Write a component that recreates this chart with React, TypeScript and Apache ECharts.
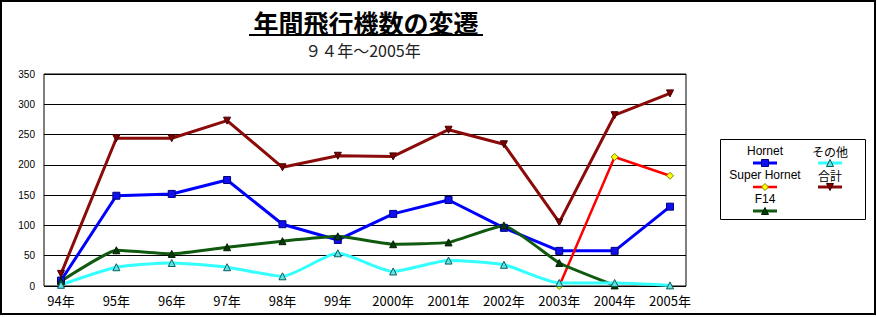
import React, { useEffect, useRef } from "react";
import * as echarts from "echarts";

const categories = ["94年", "95年", "96年", "97年", "98年", "99年", "2000年", "2001年", "2002年", "2003年", "2004年", "2005年"];
const hornet = [9, 149, 152, 175, 102, 76, 119, 142, 96, 58, 58, 131];
const superHornet = [null, null, null, null, null, null, null, null, null, 0, 213, 182];
const f14 = [8, 59, 53, 64, 74, 82, 69, 72, 100, 38, 1, null];
const others = [2, 31, 38, 31, 16, 54, 24, 42, 35, 5, 5, 1];
const total = [20, 244, 244, 273, 196, 215, 214, 258, 234, 105, 282, 318];
const yTicks = { min: 0, max: 350, interval: 50 };
const titleText = "年間飛行機数の変遷";
const subtitleText = "９４年～2005年";
const seriesNames = ["Hornet", "Super Hornet", "F14", "その他", "合計"];

const JP = "'Noto Sans CJK JP', 'Liberation Sans', sans-serif";
const LAT = "'Liberation Sans', 'Noto Sans CJK JP', sans-serif";

const styles = {
  hornet: { line: "#0000ff", fill: "#1010ee", border: "#000080", symbol: "rect", rotate: 0, width: 3 },
  superHornet: { line: "#ff0000", fill: "#ffff00", border: "#808000", symbol: "diamond", rotate: 0, width: 2.5 },
  f14: { line: "#0f5a0f", fill: "#0a3a0a", border: "#002000", symbol: "triangle", rotate: 0, width: 3 },
  others: { line: "#33ffff", fill: "#66e0e0", border: "#006060", symbol: "triangle", rotate: 0, width: 3 },
  total: { line: "#8b0a0a", fill: "#800000", border: "#400000", symbol: "triangle", rotate: 180, width: 3 },
};

function legendMarker(kind: string, cx: number, cy: number, st: any) {
  const s = 3.5;
  const style = { fill: st.fill, stroke: st.border, lineWidth: 1 };
  if (kind === "rect") return { type: "rect", shape: { x: cx - s, y: cy - s, width: 2 * s, height: 2 * s }, style };
  if (kind === "diamond") return { type: "polygon", shape: { points: [[cx, cy - s], [cx + s, cy], [cx, cy + s], [cx - s, cy]] }, style };
  if (kind === "down") return { type: "polygon", shape: { points: [[cx - s, cy - s], [cx + s, cy - s], [cx, cy + s]] }, style };
  return { type: "polygon", shape: { points: [[cx, cy - s], [cx + s, cy + s], [cx - s, cy + s]] }, style };
}

function legendItem(name: string, cx: number, ty: number, st: any, kind: string) {
  const ly = ty + 12;
  return [
    { type: "text", x: cx, y: ty, style: { text: name, font: `12px ${name.match(/[A-Za-z]/) ? LAT : JP}`, fill: "#000", align: "center", verticalAlign: "middle" } },
    { type: "line", shape: { x1: cx - 12, y1: ly, x2: cx + 12, y2: ly }, style: { stroke: st.line, lineWidth: st.width } },
    legendMarker(kind, cx, ly, st),
  ];
}

export default function App() {
  const ref = useRef<HTMLDivElement>(null);
  useEffect(() => {
    if (!ref.current) return;
    const chart = echarts.init(ref.current, null, { renderer: "svg" });
    const mk = (name: string, data: any[], st: any, smooth: number | boolean) => ({
      name,
      type: "line",
      xAxisIndex: 1,
      yAxisIndex: 1,
      data,
      smooth,
      symbol: st.symbol,
      symbolRotate: st.rotate,
      symbolSize: 7,
      lineStyle: { color: st.line, width: st.width },
      itemStyle: { color: st.fill, borderColor: st.border, borderWidth: 1 },
      connectNulls: false,
    });
    chart.setOption({
      animation: false,
      backgroundColor: "#fff",
      grid: [
        { left: 44, top: 74, width: 642, height: 212, show: true, borderColor: "#000", borderWidth: 1, backgroundColor: "transparent" },
        { left: 61, top: 74, width: 609, height: 212 },
      ],
      xAxis: [
        { type: "category", gridIndex: 0, data: categories, show: false },
        {
          type: "category",
          gridIndex: 1,
          data: categories,
          boundaryGap: false,
          axisLine: { show: false },
          axisTick: { show: false },
          axisLabel: { color: "#000", fontSize: 13, fontFamily: JP, margin: 8, interval: 0 },
        },
      ],
      yAxis: [
        {
          type: "value",
          gridIndex: 0,
          ...yTicks,
          axisLine: { show: false },
          axisTick: { show: false },
          axisLabel: { color: "#000", fontSize: 10, fontFamily: LAT, margin: 9 },
          splitLine: { show: true, lineStyle: { color: "#000", width: 1 } },
        },
        { type: "value", gridIndex: 1, ...yTicks, show: false, splitLine: { show: false } },
      ],
      series: [
        mk(seriesNames[0], hornet, styles.hornet, false),
        mk(seriesNames[1], superHornet, styles.superHornet, false),
        mk(seriesNames[2], f14, styles.f14, 0.12),
        mk(seriesNames[3], others, styles.others, 0.2),
        mk(seriesNames[4], total, styles.total, false),
      ],
      graphic: [
        { type: "rect", shape: { x: 1, y: 1, width: 874, height: 313 }, style: { fill: "none", stroke: "#000", lineWidth: 2 }, silent: true },
        { type: "text", x: 366, y: 22, style: { text: titleText, font: `bold 25px ${JP}`, lineHeight: 26, fill: "#000", align: "center", verticalAlign: "middle" } },
        { type: "line", shape: { x1: 249, y1: 35, x2: 483, y2: 35 }, style: { stroke: "#000", lineWidth: 2 } },
        { type: "text", x: 363, y: 50, style: { text: subtitleText, font: `16px ${JP}`, lineHeight: 17, fill: "#222", align: "center", verticalAlign: "middle" } },
        { type: "rect", shape: { x: 720.5, y: 139.5, width: 145, height: 80 }, style: { fill: "#fff", stroke: "#000", lineWidth: 1 } },
        ...legendItem(seriesNames[0], 765, 151, styles.hornet, "rect"),
        ...legendItem(seriesNames[1], 765, 175, styles.superHornet, "diamond"),
        ...legendItem(seriesNames[2], 765, 199, styles.f14, "up"),
        ...legendItem(seriesNames[3], 830, 151, styles.others, "up"),
        ...legendItem(seriesNames[4], 830, 175, styles.total, "down"),
      ],
    });
    return () => chart.dispose();
  }, []);
  return <div ref={ref} style={{ position: "fixed", left: 0, top: 0, width: 877, height: 317 }} />;
}
